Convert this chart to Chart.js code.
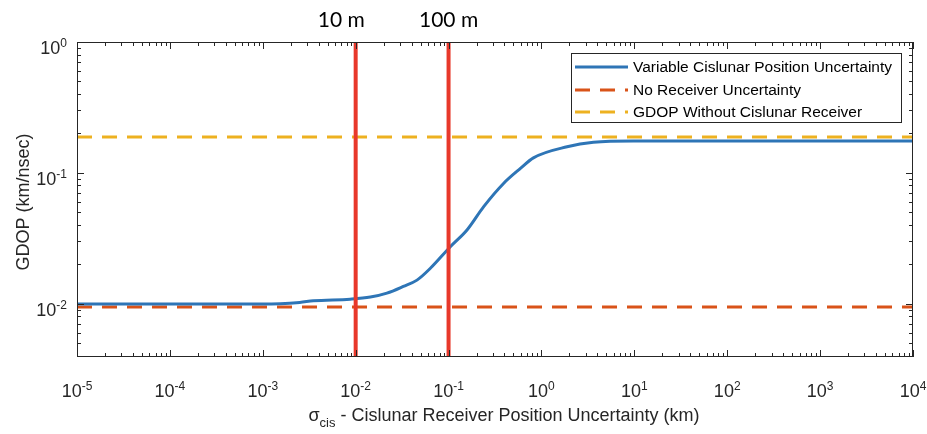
<!DOCTYPE html>
<html>
<head>
<meta charset="utf-8">
<script src="https://cdn.jsdelivr.net/npm/chart.js@4/dist/chart.umd.min.js"></script>
<style>
  html, body { margin: 0; padding: 0; background: #fff; }
  canvas { display: block; }
</style>
</head>
<body>
<canvas id="gdopChart" width="927" height="434"></canvas>
<script>
// --- data ---
const sigmaKm = [1e-5, 1e-4, 1e-3, 0.0025, 0.0035, 0.0087, 0.0144, 0.0217, 0.0326, 0.0457,
                 0.0637, 0.1045, 0.158, 0.239, 0.393, 0.594, 0.82, 1.89, 3.63, 9.8, 1e4];
const gdopVariable = [0.0099, 0.0099, 0.0099, 0.0102, 0.0105, 0.0108, 0.0112, 0.0120, 0.0135, 0.0151,
                      0.0186, 0.0272, 0.0365, 0.0551, 0.0832, 0.108, 0.130, 0.158, 0.171, 0.175, 0.175];
const gdopNoReceiver = 0.0094;
const gdopNoCislunar = 0.188;
const markerKm = [0.01, 0.1];
const markerLabels = ['10 m', '100 m'];
const markerLabelAt = [0.007, 0.1];   // where the text sits (km)
const xTickExp = [-5, -4, -3, -2, -1, 0, 1, 2, 3, 4];
const yTickExp = [-2, -1, 0];
const seriesLabels = ['Variable Cislunar Position Uncertainty', 'No Receiver Uncertainty', 'GDOP Without Cislunar Receiver'];

const X_MIN = 1e-5, X_MAX = 1e4, Y_MIN = 0.0039, Y_MAX = 1;
const AXIS = '#262626';
const FONT = "'Liberation Sans', Arial, Helvetica, sans-serif";

const flat = (v) => [{ x: X_MIN, y: v }, { x: X_MAX, y: v }];
const vline = (v) => [{ x: v, y: Y_MIN }, { x: v, y: Y_MAX }];

const datasets = [
  {
    label: seriesLabels[0],
    data: sigmaKm.map((s, i) => ({ x: s, y: gdopVariable[i] })),
    borderColor: '#2E75B6', borderWidth: 3, cubicInterpolationMode: 'monotone', order: 2
  },
  {
    label: seriesLabels[1],
    data: flat(gdopNoReceiver),
    borderColor: '#D95319', borderWidth: 3, borderDash: [15, 10], order: 3
  },
  {
    label: seriesLabels[2],
    data: flat(gdopNoCislunar),
    borderColor: '#EDB120', borderWidth: 3, borderDash: [15, 10], order: 4
  }
];
markerKm.forEach(m => datasets.push({
  label: 'marker', data: vline(m), borderColor: '#E8382B', borderWidth: 4, order: 1
}));

// 10^n label with superscript
function powLabel(ctx, e, cx, baseY, align) {
  ctx.font = '18px ' + FONT;
  const wb = ctx.measureText('10').width;
  ctx.font = '12px ' + FONT;
  const we = ctx.measureText(String(e)).width;
  const total = wb + we;
  let left = align === 'center' ? cx - total / 2 : cx - total;
  ctx.textAlign = 'left';
  ctx.font = '18px ' + FONT;
  ctx.fillText('10', left, baseY);
  ctx.font = '12px ' + FONT;
  ctx.fillText(String(e), left + wb, baseY - 7);
}

const decor = {
  id: 'decor',
  afterDraw(chart) {
    const { ctx, chartArea: a, scales: { x, y } } = chart;
    ctx.save();
    ctx.strokeStyle = AXIS;
    ctx.fillStyle = AXIS;
    ctx.lineWidth = 1;
    const seg = (x1, y1, x2, y2) => { ctx.beginPath(); ctx.moveTo(x1, y1); ctx.lineTo(x2, y2); ctx.stroke(); };

    // box
    ctx.strokeRect(a.left + 0.5, a.top + 0.5, a.right - a.left - 1, a.bottom - a.top - 1);

    // tick marks, inside, on all four sides
    for (let e = -5; e <= 4; e++) {
      for (let m = 1; m <= 9; m++) {
        const v = m * Math.pow(10, e);
        if (v > X_MAX * 1.0001) break;
        const px = Math.round(x.getPixelForValue(v)) + 0.5;
        const len = m === 1 ? 7 : 4;
        seg(px, a.bottom, px, a.bottom - len);
        seg(px, a.top, px, a.top + len);
      }
    }
    for (let e = -3; e <= 0; e++) {
      for (let m = 1; m <= 9; m++) {
        const v = m * Math.pow(10, e);
        if (v < Y_MIN || v > Y_MAX * 1.0001) continue;
        const py = Math.round(y.getPixelForValue(v)) + 0.5;
        const len = m === 1 ? 7 : 4;
        seg(a.left, py, a.left + len, py);
        seg(a.right, py, a.right - len, py);
      }
    }

    // tick labels
    ctx.textBaseline = 'alphabetic';
    x.ticks.forEach(t => powLabel(ctx, Math.round(Math.log10(t.value)), x.getPixelForValue(t.value), 397, 'center'));
    y.ticks.forEach(t => powLabel(ctx, Math.round(Math.log10(t.value)), 67, y.getPixelForValue(t.value) + 12, 'right'));

    // x title with subscript
    const rest = ' - Cislunar Receiver Position Uncertainty (km)';
    ctx.font = '18px ' + FONT;
    const wS = ctx.measureText('\u03c3').width, wR = ctx.measureText(rest).width;
    ctx.font = '13px ' + FONT;
    const wC = ctx.measureText('cis').width;
    let tx = 504 - (wS + wC + wR) / 2;
    ctx.textAlign = 'left';
    ctx.font = '18px ' + FONT;
    ctx.fillText('\u03c3', tx, 421);
    ctx.font = '13px ' + FONT;
    ctx.fillText('cis', tx + wS, 427);
    ctx.font = '18px ' + FONT;
    ctx.fillText(rest, tx + wS + wC, 421);

    // y title
    ctx.save();
    ctx.translate(29, 202);
    ctx.rotate(-Math.PI / 2);
    ctx.textAlign = 'center';
    ctx.fillText('GDOP (km/nsec)', 0, 0);
    ctx.restore();

    // marker labels
    ctx.fillStyle = '#000';
    ctx.font = "21px Lato, 'Open Sans', sans-serif";
    ctx.textAlign = 'center';
    markerLabels.forEach((s, i) => ctx.fillText(s, x.getPixelForValue(markerLabelAt[i]), 27));

    // legend
    const lx = 571, ly = 53, lw = 330, lh = 69;
    ctx.fillStyle = '#fff';
    ctx.fillRect(lx, ly, lw, lh);
    ctx.strokeStyle = AXIS;
    ctx.lineWidth = 1;
    ctx.strokeRect(lx + 0.5, ly + 0.5, lw, lh);
    const rows = [67, 90, 112];
    chart.data.datasets.slice(0, 3).forEach((d, i) => {
      ctx.strokeStyle = d.borderColor;
      ctx.lineWidth = 3;
      ctx.setLineDash(d.borderDash || []);
      seg(575, rows[i], 628, rows[i]);
      ctx.setLineDash([]);
      ctx.fillStyle = '#000';
      ctx.font = '15.5px ' + FONT;
      ctx.textAlign = 'left';
      ctx.textBaseline = 'middle';
      ctx.fillText(d.label, 633, rows[i] + 1);
    });
    ctx.restore();
  }
};

new Chart(document.getElementById('gdopChart'), {
  type: 'line',
  data: { datasets },
  plugins: [decor],
  options: {
    responsive: false,
    animation: false,
    devicePixelRatio: 1,
    elements: { point: { radius: 0 } },
    layout: { padding: { left: 0, top: 42, right: 14, bottom: 0 } },
    plugins: { legend: { display: false }, tooltip: { enabled: false } },
    scales: {
      x: {
        type: 'logarithmic', min: X_MIN, max: X_MAX,
        grid: { display: false }, border: { display: false },
        ticks: { display: false },
        afterBuildTicks: s => { s.ticks = xTickExp.map(e => ({ value: Math.pow(10, e) })); },
        afterFit: s => { s.height = 77; }
      },
      y: {
        type: 'logarithmic', min: Y_MIN, max: Y_MAX,
        grid: { display: false }, border: { display: false },
        ticks: { display: false },
        afterBuildTicks: s => { s.ticks = yTickExp.map(e => ({ value: Math.pow(10, e) })); },
        afterFit: s => { s.width = 77; }
      }
    }
  }
});
</script>
</body>
</html>
